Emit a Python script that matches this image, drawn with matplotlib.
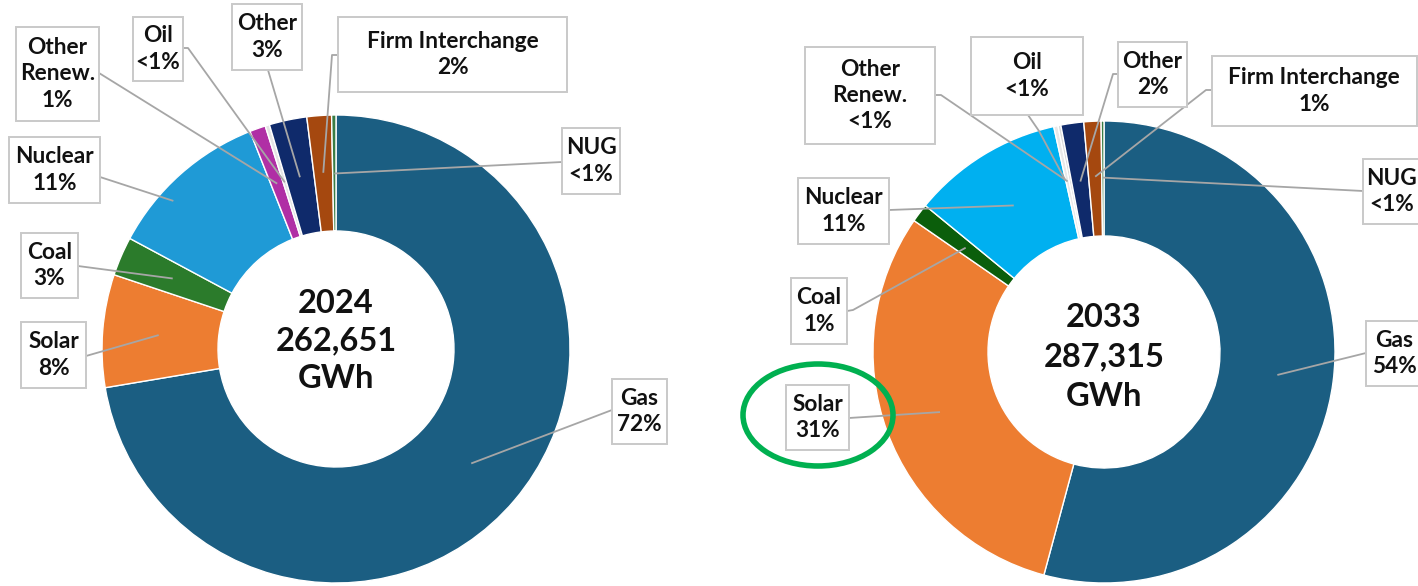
import matplotlib
matplotlib.use("Agg")
import matplotlib.pyplot as plt
from matplotlib.patches import Rectangle, Ellipse
import numpy as np

# ---------------- data ----------------
categories = ["Gas", "Solar", "Coal", "Nuclear", "Other Renew.", "Oil", "Other",
              "Firm Interchange", "NUG"]
share_2024 = [72.5, 7.8, 2.7, 11.2, 1.1, 0.3, 2.6, 1.7, 0.3]
share_2033 = [54.3, 30.5, 1.3, 10.6, 0.3, 0.2, 1.6, 1.2, 0.2]
labels_2024 = ["Gas\n72%", "Solar\n8%", "Coal\n3%", "Nuclear\n11%", "Other\nRenew.\n1%",
               "Oil\n<1%", "Other\n3%", "Firm Interchange\n2%", "NUG\n<1%"]
labels_2033 = ["Gas\n54%", "Solar\n31%", "Coal\n1%", "Nuclear\n11%", "Other\nRenew.\n<1%",
               "Oil\n<1%", "Other\n2%", "Firm Interchange\n1%", "NUG\n<1%"]
center_2024 = "2024\n262,651\nGWh"
center_2033 = "2033\n287,315\nGWh"

colors_2024 = ["#1b5e82", "#ed7d31", "#2b7b2b", "#1f9ad6", "#b02fa5", "#e4e4e4",
               "#0f2a6b", "#a5480f", "#3a7d44"]
colors_2033 = ["#1b5e82", "#ed7d31", "#0b5e0b", "#00b0f0", "#e8e8e8", "#d9d9d9",
               "#0f2a6b", "#a5480f", "#3a7d44"]

# ---------------- layout (pixel coords, y down) ----------------
W, H = 1418, 586
FONT = ["Lato", "DejaVu Sans"]

layout_2024 = dict(
    center=(336, 349), R=234, r=118, text_y=341, text_ls=1.34,
    boxes=[(612, 379, 667, 444), (21, 322, 86, 388), (21, 233, 78, 298), (9, 137, 100, 203),
           (16, 27, 99, 121), (133, 17, 183, 81), (232, 4, 302, 70), (338, 17, 567, 92),
           (562, 128, 620, 194)],
    attach=[[(612, 410)], [(86, 356)], [(78, 266)], [(100, 177)], [(99, 73)],
            [(183, 48), (188, 48)], [(268, 70)], [(338, 55), (332, 55)], [(562, 162)]],
    frac=[0.757, 0.76, 0.76, 0.94, 0.75, 0.745, 0.75, 0.755, 0.75],
    dang=[0, 0, 0, 6, 0, 0, 0, 0, 0],
)
layout_2033 = dict(
    center=(1104, 352), R=231, r=116, text_y=357, text_ls=1.44,
    boxes=[(1366, 321, 1428, 386), (786, 385, 849, 450), (791, 278, 847, 344), (798, 178, 889, 244),
           (805, 47, 935, 144), (971, 37, 1083, 115), (1118, 42, 1187, 107), (1212, 56, 1417, 126),
           (1363, 159, 1428, 224)],
    text_x=[1394, None, None, None, None, None, None, 1314, 1392],
    attach=[[(1366, 353)], [(849, 418)], [(847, 311), (853, 310)], [(889, 210)],
            [(935, 95), (941, 95)], [(1028, 115), (1039, 131)], [(1118, 74), (1113, 74)],
            [(1212, 90), (1206, 90)], [(1363, 191)]],
    frac=[0.757, 0.756, 0.75, 0.745, 0.755, 0.76, 0.745, 0.76, 0.755],
    dang=[0, 0, 0, 0, 0, 1.5, 0, 0, 0],
)

LINE_C = "#a6a6a6"
BOX_EC = "#c9c9c9"

fig = plt.figure(figsize=(W / 100, H / 100), dpi=100)
ax = fig.add_axes([0, 0, 1, 1])


def Y(y):
    return H - y


def draw(values, colors, labels, ctext, L):
    cx, cy = L["center"]
    R, r = L["R"], L["r"]
    ax.pie(values, colors=colors, startangle=90, counterclock=False, radius=R,
           center=(cx, Y(cy)), normalize=True,
           wedgeprops=dict(width=R - r, edgecolor="white", linewidth=1.0))
    total = float(sum(values))
    cum = np.cumsum([0] + list(values))[:-1]
    for i, (v, lab) in enumerate(zip(values, labels)):
        theta = np.deg2rad(90 - 360 * (cum[i] + v / 2) / total + L["dang"][i])
        ar = L["frac"][i] * R
        axp, ayp = cx + ar * np.cos(theta), Y(cy) + ar * np.sin(theta)
        pts = [(px, Y(py)) for px, py in L["attach"][i]] + [(axp, ayp)]
        xs, ys = zip(*pts)
        ax.plot(xs, ys, color=LINE_C, lw=1.3, zorder=3, solid_capstyle="butt")
        x0, y0, x1, y1 = L["boxes"][i]
        ax.add_patch(Rectangle((x0, Y(y1)), x1 - x0, y1 - y0, facecolor="white",
                               edgecolor=BOX_EC, lw=1.4, zorder=4))
        tx = (x0 + x1) / 2
        if "text_x" in L and L["text_x"][i] is not None:
            tx = L["text_x"][i]
        ax.text(tx, Y((y0 + y1) / 2), lab, ha="center", va="center", fontsize=16.3,
                fontweight="bold", family=FONT, color="#111111", linespacing=1.3,
                zorder=5)
    ax.text(cx, Y(L["text_y"]), ctext, ha="center", va="center", fontsize=23.5,
            fontweight="bold", family=FONT, color="#111111", linespacing=L["text_ls"],
            zorder=5)


draw(share_2024, colors_2024, labels_2024, center_2024, layout_2024)
draw(share_2033, colors_2033, labels_2033, center_2033, layout_2033)

# highlight ellipse around the 2033 Solar label
ax.add_patch(Ellipse((818, Y(415)), 150, 102, facecolor="none", edgecolor="#00b050",
                     lw=4.0, zorder=6))

ax.set_xlim(0, W)
ax.set_ylim(0, H)
ax.set_aspect("equal")
ax.axis("off")
fig.savefig("out.png", dpi=100, facecolor="white")
